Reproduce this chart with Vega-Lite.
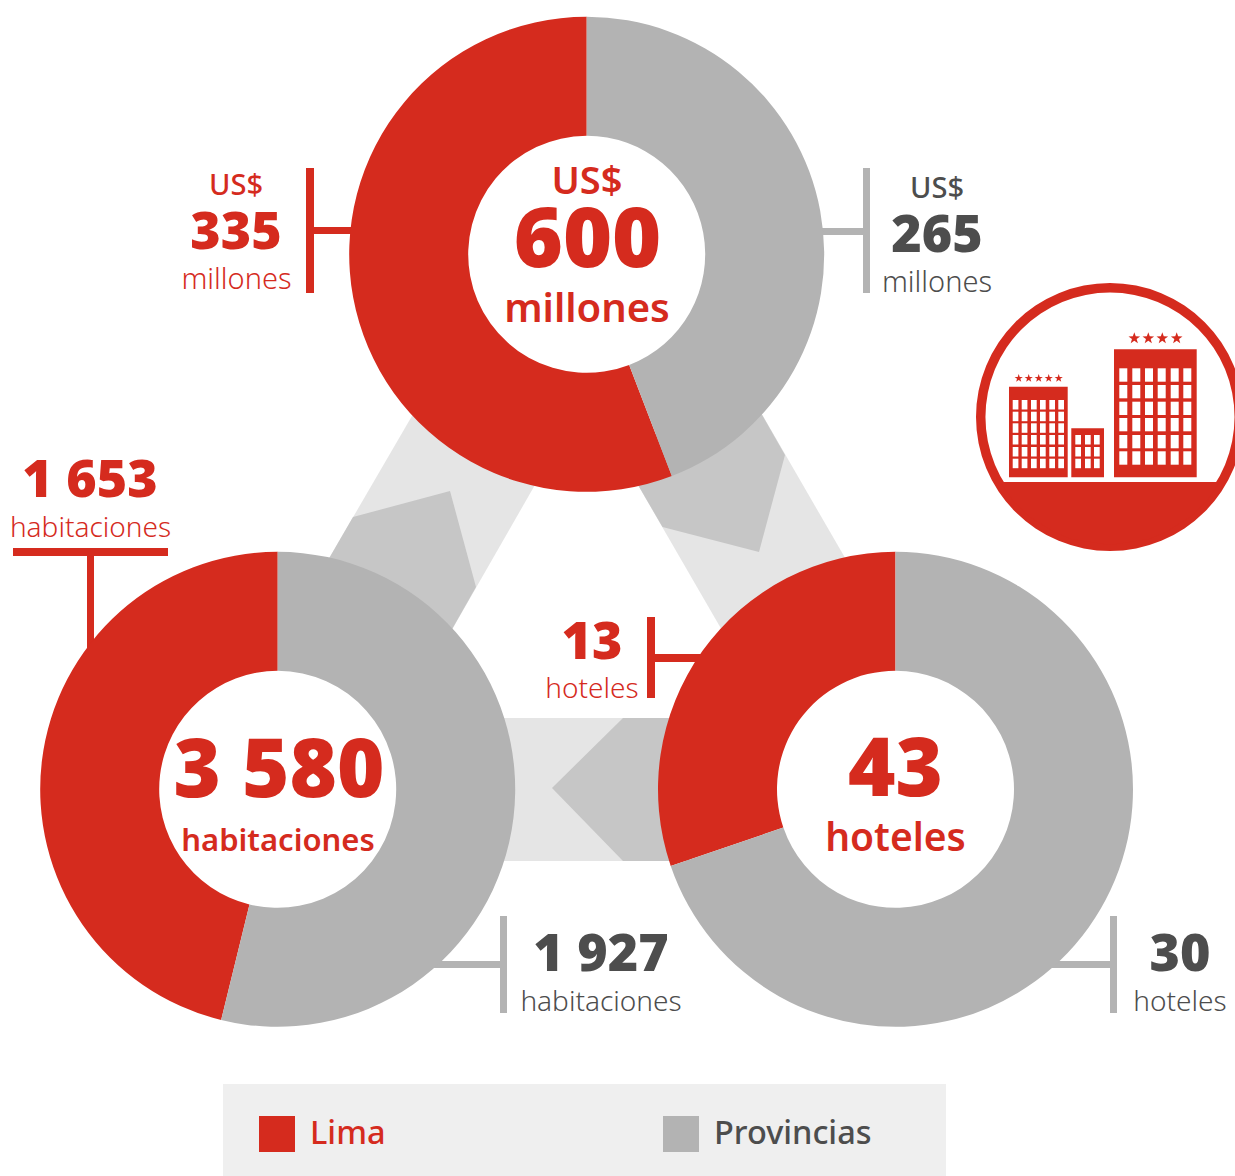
{
"$schema":"https://vega.github.io/schema/vega-lite/v6.json",
"width":1235,"height":1176,"padding":0,"autosize":{"type":"none"},"background":"white",
"config":{"view":{"stroke":null},"text":{"font":"Noto Sans"}},
"encoding":{
"x":{"field":"x","type":"quantitative","stack":null,"scale":{"domain":[0,1235],"nice":false,"zero":false},"axis":null},
"y":{"field":"y","type":"quantitative","stack":null,"scale":{"domain":[0,1176],"reverse":true,"nice":false,"zero":false},"axis":null}
},
"layer":[
{"data":{"values":[
{"s":"a","o":1,"x":430,"y":385},{"s":"a","o":2,"x":555,"y":450},{"s":"a","o":3,"x":430,"y":668},{"s":"a","o":4,"x":320,"y":574},
{"s":"b","o":1,"x":745,"y":385},{"s":"b","o":2,"x":855,"y":575},{"s":"b","o":3,"x":745,"y":670},{"s":"b","o":4,"x":620,"y":454},
{"s":"c","o":1,"x":490,"y":718},{"s":"c","o":2,"x":690,"y":718},{"s":"c","o":3,"x":690,"y":861},{"s":"c","o":4,"x":490,"y":861}
]},"mark":{"type":"line","fill":"#e5e5e5","strokeWidth":0},"encoding":{"detail":{"field":"s"},"order":{"field":"o"}}},
{"data":{"values":[
{"s":"a","o":1,"x":353,"y":517},{"s":"a","o":2,"x":450,"y":491},{"s":"a","o":3,"x":476,"y":587},{"s":"a","o":4,"x":430,"y":668},{"s":"a","o":5,"x":320,"y":574},
{"s":"b","o":1,"x":745,"y":385},{"s":"b","o":2,"x":785,"y":455},{"s":"b","o":3,"x":759,"y":552},{"s":"b","o":4,"x":662.5,"y":527},{"s":"b","o":5,"x":620,"y":454},
{"s":"c","o":1,"x":623,"y":718},{"s":"c","o":2,"x":690,"y":718},{"s":"c","o":3,"x":690,"y":861},{"s":"c","o":4,"x":623,"y":861},{"s":"c","o":5,"x":552,"y":788}
]},"mark":{"type":"line","fill":"#c6c6c6","strokeWidth":0},"encoding":{"detail":{"field":"s"},"order":{"field":"o"}}},
{"data":{"values":[
{"x":306,"x2":314,"y":168,"y2":293},{"x":314,"x2":355,"y":227,"y2":234},
{"x":13,"x2":168,"y":548,"y2":556},{"x":87,"x2":94,"y":552,"y2":655},
{"x":647,"x2":655,"y":617,"y2":698},{"x":655,"x2":705,"y":654,"y2":662}
]},"mark":{"type":"rect","color":"#d52b1e"},"encoding":{"x2":{"field":"x2"},"y2":{"field":"y2"}}},
{"data":{"values":[
{"x":863,"x2":870,"y":168,"y2":293},{"x":820,"x2":863,"y":228,"y2":235},
{"x":500,"x2":507,"y":916,"y2":1013},{"x":430,"x2":500,"y":961,"y2":968},
{"x":1110,"x2":1117,"y":916,"y2":1013},{"x":1045,"x2":1110,"y":961,"y2":968}
]},"mark":{"type":"rect","color":"#b3b3b3"},"encoding":{"x2":{"field":"x2"},"y2":{"field":"y2"}}},
{"data":{"values":[
{"indicador":"Inversión","grupo":"Lima","valor":335,"x":586.7,"y":254.3},{"indicador":"Inversión","grupo":"Provincias","valor":265,"x":586.7,"y":254.3},
{"indicador":"Habitaciones","grupo":"Lima","valor":1653,"x":277.7,"y":789.3},{"indicador":"Habitaciones","grupo":"Provincias","valor":1927,"x":277.7,"y":789.3},
{"indicador":"Hoteles","grupo":"Lima","valor":13,"x":895.5,"y":789.3},{"indicador":"Hoteles","grupo":"Provincias","valor":30,"x":895.5,"y":789.3}
]},"transform":[{"stack":"valor","offset":"normalize","groupby":["indicador"],"sort":[{"field":"grupo","order":"descending"}],"as":["t0","t1"]}],
"mark":{"type":"arc","innerRadius":118.5,"outerRadius":237.5},"encoding":{
"theta":{"field":"t0","type":"quantitative","scale":{"domain":[0,1]}},"theta2":{"field":"t1"},
"color":{"field":"grupo","type":"nominal","scale":{"domain":["Lima","Provincias"],"range":["#d52b1e","#b3b3b3"]},
"legend":{"orient":"none","legendX":259,"legendY":1116,"title":null,"direction":"horizontal","columns":2,"columnPadding":277,"symbolType":"square","symbolSize":1296,"symbolStrokeWidth":0,"symbolOpacity":1,"labelOffset":15,"labelFontSize":32.5,"labelFont":"Noto Sans","labelFontWeight":500,"labelColor":{"expr":"datum.label === 'Lima' ? '#d52b1e' : '#4d4d4d'"},"labelLimit":300}}
}},
{"data":{"values":[{"t":"600","x":587.5,"y":267}]},
"mark":{"type":"text","fontSize":84,"fontWeight":900,"color":"#d52b1e","align":"center","baseline":"alphabetic"},"encoding":{"text":{"field":"t"}}},
{"data":{"values":[{"t":"3 580","x":279,"y":797},{"t":"43","x":895.5,"y":796}]},
"mark":{"type":"text","fontSize":81,"fontWeight":900,"color":"#d52b1e","align":"center","baseline":"alphabetic"},"encoding":{"text":{"field":"t"}}},
{"data":{"values":[{"t":"US$","x":587,"y":194}]},
"mark":{"type":"text","fontSize":38,"fontWeight":600,"color":"#d52b1e","align":"center","baseline":"alphabetic"},"encoding":{"text":{"field":"t"}}},
{"data":{"values":[{"t":"millones","x":587,"y":322}]},
"mark":{"type":"text","fontSize":40,"fontWeight":600,"color":"#d52b1e","align":"center","baseline":"alphabetic"},"encoding":{"text":{"field":"t"}}},
{"data":{"values":[{"t":"hoteles","x":895.5,"y":851}]},
"mark":{"type":"text","fontSize":39,"fontWeight":600,"color":"#d52b1e","align":"center","baseline":"alphabetic"},"encoding":{"text":{"field":"t"}}},
{"data":{"values":[{"t":"habitaciones","x":278,"y":851}]},
"mark":{"type":"text","fontSize":31,"fontWeight":600,"color":"#d52b1e","align":"center","baseline":"alphabetic"},"encoding":{"text":{"field":"t"}}},
{"data":{"values":[{"t":"335","x":236,"y":249},{"t":"1 653","x":90,"y":497},{"t":"13","x":592,"y":659}]},
"mark":{"type":"text","fontSize":52,"fontWeight":900,"color":"#d52b1e","align":"center","baseline":"alphabetic"},"encoding":{"text":{"field":"t"}}},
{"data":{"values":[{"t":"265","x":937,"y":252},{"t":"1 927","x":601,"y":971},{"t":"30","x":1180,"y":971}]},
"mark":{"type":"text","fontSize":52,"fontWeight":900,"color":"#4d4d4d","align":"center","baseline":"alphabetic"},"encoding":{"text":{"field":"t"}}},
{"data":{"values":[{"t":"US$","x":236,"y":195}]},
"mark":{"type":"text","fontSize":29,"fontWeight":500,"color":"#d52b1e","align":"center","baseline":"alphabetic"},"encoding":{"text":{"field":"t"}}},
{"data":{"values":[{"t":"US$","x":937,"y":198}]},
"mark":{"type":"text","fontSize":29,"fontWeight":500,"color":"#4d4d4d","align":"center","baseline":"alphabetic"},"encoding":{"text":{"field":"t"}}},
{"data":{"values":[{"t":"millones","x":236.5,"y":289}]},
"mark":{"type":"text","fontSize":29,"fontWeight":300,"color":"#d52b1e","align":"center","baseline":"alphabetic"},"encoding":{"text":{"field":"t"}}},
{"data":{"values":[{"t":"millones","x":937,"y":292}]},
"mark":{"type":"text","fontSize":29,"fontWeight":300,"color":"#4d4d4d","align":"center","baseline":"alphabetic"},"encoding":{"text":{"field":"t"}}},
{"data":{"values":[{"t":"habitaciones","x":90.5,"y":537},{"t":"hoteles","x":592,"y":698}]},
"mark":{"type":"text","fontSize":28,"fontWeight":300,"color":"#d52b1e","align":"center","baseline":"alphabetic"},"encoding":{"text":{"field":"t"}}},
{"data":{"values":[{"t":"habitaciones","x":601,"y":1011},{"t":"hoteles","x":1180,"y":1011}]},
"mark":{"type":"text","fontSize":28,"fontWeight":300,"color":"#4d4d4d","align":"center","baseline":"alphabetic"},"encoding":{"text":{"field":"t"}}},
{"data":{"values":[{"icono":"hotel","x":1110,"y":417}]},"mark":{"type":"arc","innerRadius":124.5,"outerRadius":134,"theta":0,"theta2":6.2832,"color":"#d52b1e"}},
{"data":{"values":[
{"o":1,"x":1000,"y":482},{"o":2,"x":1014,"y":502},{"o":3,"x":1030,"y":517},{"o":4,"x":1054,"y":532},{"o":5,"x":1071,"y":539},{"o":6,"x":1110,"y":545},{"o":7,"x":1149,"y":539},{"o":8,"x":1166,"y":532},{"o":9,"x":1190,"y":517},{"o":10,"x":1206,"y":502},{"o":11,"x":1220,"y":482}
]},"mark":{"type":"line","fill":"#d52b1e","strokeWidth":0},"encoding":{"order":{"field":"o"}}},
{"data":{"values":[
{"x":1009,"x2":1067.7,"y":386.7,"y2":477.3},{"x":1071.3,"x2":1104,"y":428.3,"y2":477.3},{"x":1114,"x2":1196.7,"y":349.3,"y2":477.3}
]},"mark":{"type":"rect","color":"#d52b1e"},"encoding":{"x2":{"field":"x2"},"y2":{"field":"y2"}}},
{"data":{"values":[
{"x":1012.7,"x2":1018.4,"y":400,"y2":409.5},{"x":1021.7,"x2":1027.4,"y":400,"y2":409.5},{"x":1031,"x2":1036.7,"y":400,"y2":409.5},{"x":1040,"x2":1045.7,"y":400,"y2":409.5},{"x":1049.3,"x2":1055,"y":400,"y2":409.5},{"x":1058.3,"x2":1064,"y":400,"y2":409.5},
{"x":1012.7,"x2":1018.4,"y":411.7,"y2":421.2},{"x":1021.7,"x2":1027.4,"y":411.7,"y2":421.2},{"x":1031,"x2":1036.7,"y":411.7,"y2":421.2},{"x":1040,"x2":1045.7,"y":411.7,"y2":421.2},{"x":1049.3,"x2":1055,"y":411.7,"y2":421.2},{"x":1058.3,"x2":1064,"y":411.7,"y2":421.2},
{"x":1012.7,"x2":1018.4,"y":423.3,"y2":432.8},{"x":1021.7,"x2":1027.4,"y":423.3,"y2":432.8},{"x":1031,"x2":1036.7,"y":423.3,"y2":432.8},{"x":1040,"x2":1045.7,"y":423.3,"y2":432.8},{"x":1049.3,"x2":1055,"y":423.3,"y2":432.8},{"x":1058.3,"x2":1064,"y":423.3,"y2":432.8},
{"x":1012.7,"x2":1018.4,"y":435,"y2":444.5},{"x":1021.7,"x2":1027.4,"y":435,"y2":444.5},{"x":1031,"x2":1036.7,"y":435,"y2":444.5},{"x":1040,"x2":1045.7,"y":435,"y2":444.5},{"x":1049.3,"x2":1055,"y":435,"y2":444.5},{"x":1058.3,"x2":1064,"y":435,"y2":444.5},
{"x":1012.7,"x2":1018.4,"y":447,"y2":456.5},{"x":1021.7,"x2":1027.4,"y":447,"y2":456.5},{"x":1031,"x2":1036.7,"y":447,"y2":456.5},{"x":1040,"x2":1045.7,"y":447,"y2":456.5},{"x":1049.3,"x2":1055,"y":447,"y2":456.5},{"x":1058.3,"x2":1064,"y":447,"y2":456.5},
{"x":1012.7,"x2":1018.4,"y":458.7,"y2":468.2},{"x":1021.7,"x2":1027.4,"y":458.7,"y2":468.2},{"x":1031,"x2":1036.7,"y":458.7,"y2":468.2},{"x":1040,"x2":1045.7,"y":458.7,"y2":468.2},{"x":1049.3,"x2":1055,"y":458.7,"y2":468.2},{"x":1058.3,"x2":1064,"y":458.7,"y2":468.2},
{"x":1075.3,"x2":1081,"y":435,"y2":444.5},{"x":1085,"x2":1090.7,"y":435,"y2":444.5},{"x":1094,"x2":1099.7,"y":435,"y2":444.5},
{"x":1075.3,"x2":1081,"y":447,"y2":456.5},{"x":1085,"x2":1090.7,"y":447,"y2":456.5},{"x":1094,"x2":1099.7,"y":447,"y2":456.5},
{"x":1075.3,"x2":1081,"y":458.7,"y2":468.2},{"x":1085,"x2":1090.7,"y":458.7,"y2":468.2},{"x":1094,"x2":1099.7,"y":458.7,"y2":468.2},
{"x":1119.3,"x2":1127.3,"y":368.3,"y2":381.7},{"x":1132.3,"x2":1140.3,"y":368.3,"y2":381.7},{"x":1145,"x2":1153,"y":368.3,"y2":381.7},{"x":1157.7,"x2":1165.7,"y":368.3,"y2":381.7},{"x":1170.7,"x2":1178.7,"y":368.3,"y2":381.7},{"x":1183.3,"x2":1191.3,"y":368.3,"y2":381.7},
{"x":1119.3,"x2":1127.3,"y":385,"y2":398.3},{"x":1132.3,"x2":1140.3,"y":385,"y2":398.3},{"x":1145,"x2":1153,"y":385,"y2":398.3},{"x":1157.7,"x2":1165.7,"y":385,"y2":398.3},{"x":1170.7,"x2":1178.7,"y":385,"y2":398.3},{"x":1183.3,"x2":1191.3,"y":385,"y2":398.3},
{"x":1119.3,"x2":1127.3,"y":401.7,"y2":415},{"x":1132.3,"x2":1140.3,"y":401.7,"y2":415},{"x":1145,"x2":1153,"y":401.7,"y2":415},{"x":1157.7,"x2":1165.7,"y":401.7,"y2":415},{"x":1170.7,"x2":1178.7,"y":401.7,"y2":415},{"x":1183.3,"x2":1191.3,"y":401.7,"y2":415},
{"x":1119.3,"x2":1127.3,"y":418,"y2":431.3},{"x":1132.3,"x2":1140.3,"y":418,"y2":431.3},{"x":1145,"x2":1153,"y":418,"y2":431.3},{"x":1157.7,"x2":1165.7,"y":418,"y2":431.3},{"x":1170.7,"x2":1178.7,"y":418,"y2":431.3},{"x":1183.3,"x2":1191.3,"y":418,"y2":431.3},
{"x":1119.3,"x2":1127.3,"y":435,"y2":448.3},{"x":1132.3,"x2":1140.3,"y":435,"y2":448.3},{"x":1145,"x2":1153,"y":435,"y2":448.3},{"x":1157.7,"x2":1165.7,"y":435,"y2":448.3},{"x":1170.7,"x2":1178.7,"y":435,"y2":448.3},{"x":1183.3,"x2":1191.3,"y":435,"y2":448.3},
{"x":1119.3,"x2":1127.3,"y":451.3,"y2":464.7},{"x":1132.3,"x2":1140.3,"y":451.3,"y2":464.7},{"x":1145,"x2":1153,"y":451.3,"y2":464.7},{"x":1157.7,"x2":1165.7,"y":451.3,"y2":464.7},{"x":1170.7,"x2":1178.7,"y":451.3,"y2":464.7},{"x":1183.3,"x2":1191.3,"y":451.3,"y2":464.7}
]},"mark":{"type":"rect","color":"white"},"encoding":{"x2":{"field":"x2"},"y2":{"field":"y2"}}},
{"data":{"values":[{"x":1134.3,"y":338.3},{"x":1148.3,"y":338.3},{"x":1162.3,"y":338.3},{"x":1176.7,"y":338.3}]},
"mark":{"type":"point","filled":true,"opacity":1,"color":"#d52b1e","size":150,"shape":"M0,-1L0.235,-0.324L0.951,-0.309L0.38,0.124L0.588,0.809L0,0.4L-0.588,0.809L-0.38,0.124L-0.951,-0.309L-0.235,-0.324Z"}},
{"data":{"values":[{"x":1018.7,"y":378.3},{"x":1028.7,"y":378.3},{"x":1038.7,"y":378.3},{"x":1048.7,"y":378.3},{"x":1058.7,"y":378.3}]},
"mark":{"type":"point","filled":true,"opacity":1,"color":"#d52b1e","size":75,"shape":"M0,-1L0.235,-0.324L0.951,-0.309L0.38,0.124L0.588,0.809L0,0.4L-0.588,0.809L-0.38,0.124L-0.951,-0.309L-0.235,-0.324Z"}},
{"data":{"values":[{"x":223,"x2":946,"y":1084,"y2":1176}]},"mark":{"type":"rect","color":"#efefef"},"encoding":{"x2":{"field":"x2"},"y2":{"field":"y2"}}}
]
}
